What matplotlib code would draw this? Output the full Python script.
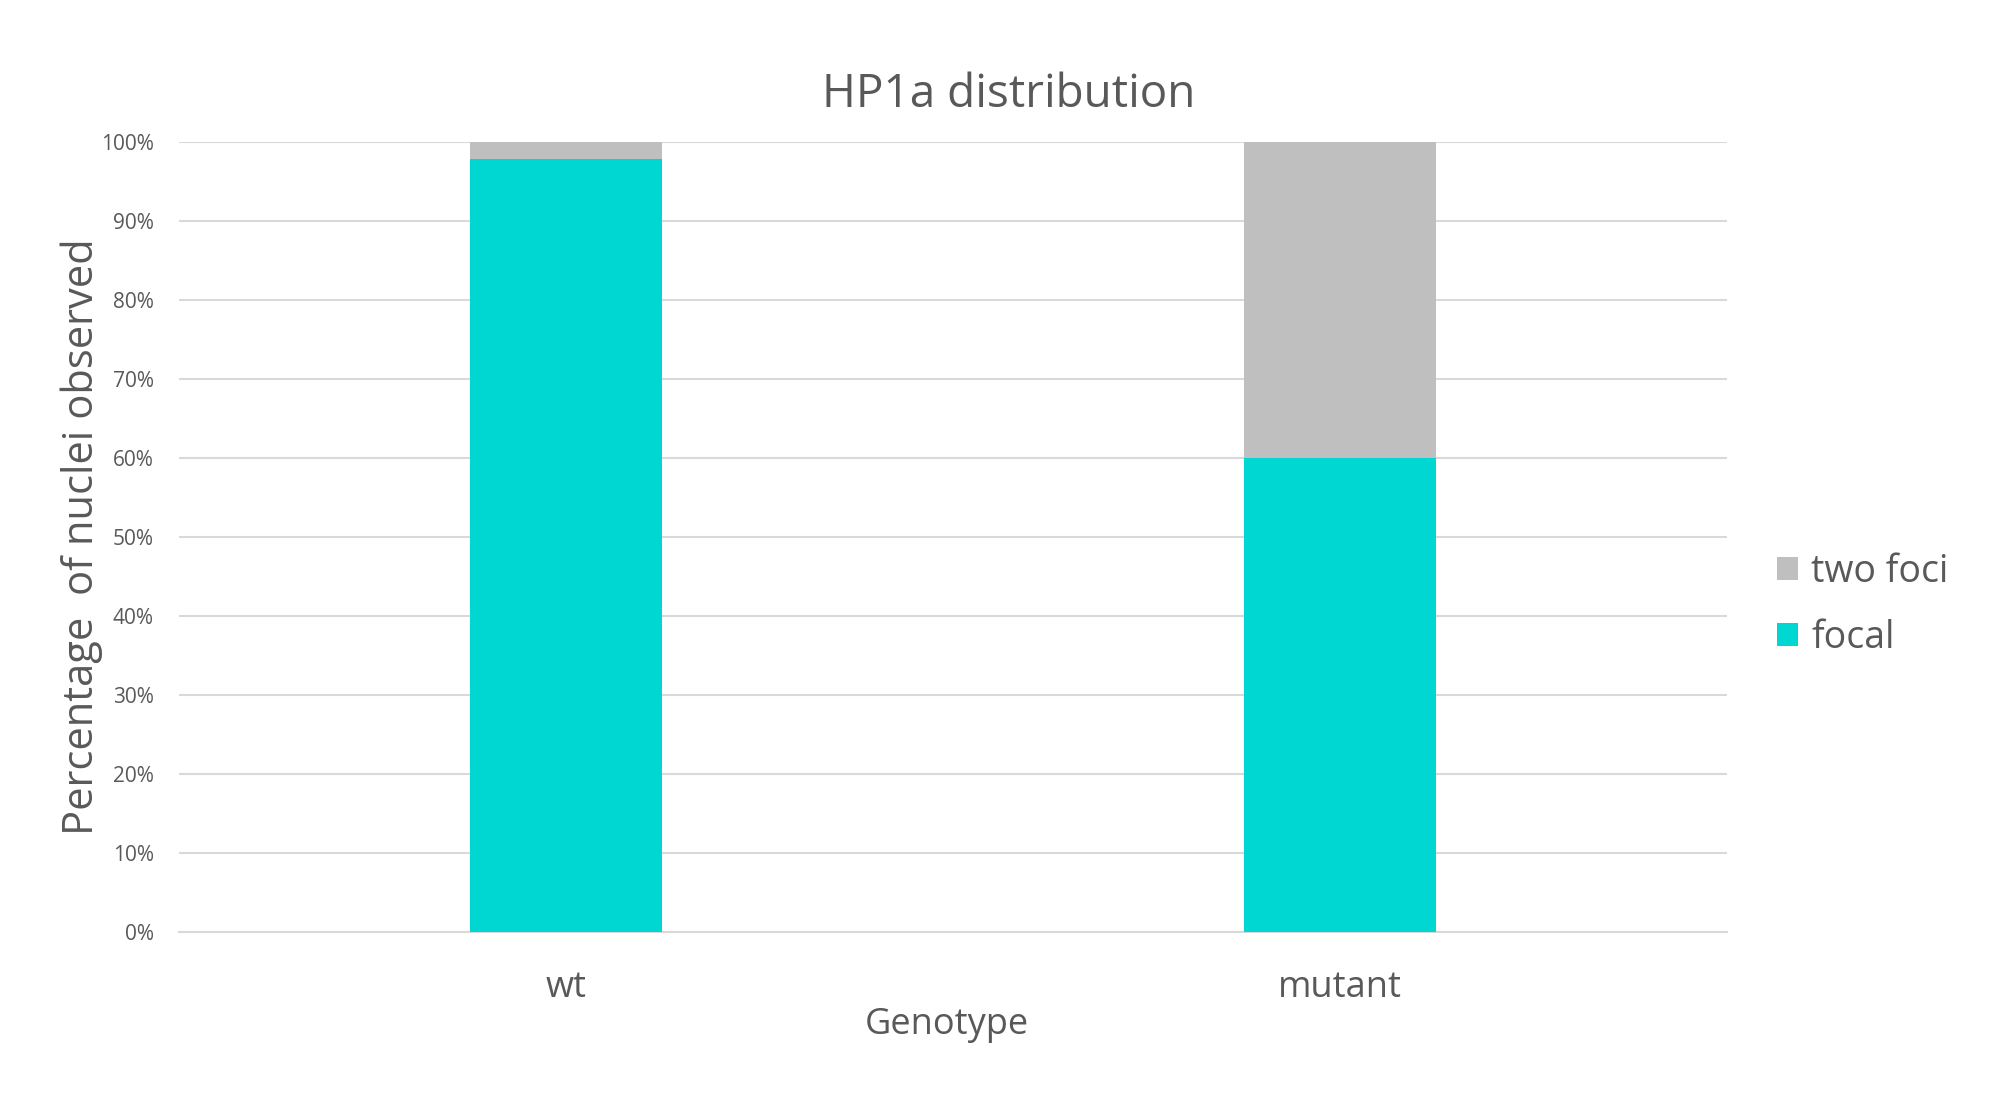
import matplotlib
matplotlib.use("Agg")
import matplotlib.pyplot as plt
from matplotlib.ticker import PercentFormatter

# data (percent of nuclei)
genotypes = ["wt", "mutant"]
focal = [97.8, 60.0]
two_foci = [2.2, 40.0]

plt.rcParams['font.family'] = ['Open Sans', 'DejaVu Sans']
text_col = "#595959"
grid_col = "#d9d9d9"

fig = plt.figure(figsize=(20.10, 11.08), dpi=100)
ax = fig.add_axes([0.089, 0.1588, 0.770, 0.713])

x = range(len(genotypes))
b1 = ax.bar(x, focal, width=0.248, color="#00d6d2", label="focal", zorder=3)
b2 = ax.bar(x, two_foci, width=0.248, bottom=focal, color="#bfbfbf",
            label="two foci", zorder=3)

ax.set_xlim(-0.5, 1.5)
ax.set_ylim(0, 100)
ax.set_yticks(range(0, 101, 10))
ax.yaxis.set_major_formatter(PercentFormatter(decimals=0))
ax.grid(axis="y", color=grid_col, linewidth=1.5, zorder=0)
for s in ["top", "right", "left"]:
    ax.spines[s].set_visible(False)
ax.spines["bottom"].set_color(grid_col)
ax.spines["bottom"].set_linewidth(1.5)
ax.tick_params(axis="both", length=0)
ax.tick_params(axis="y", labelsize=15, labelcolor=text_col, pad=18)
ax.set_xticks(list(x))
ax.set_xticklabels(genotypes, fontsize=26, color=text_col)
ax.tick_params(axis="x", pad=27)

ax.set_xlabel("Genotype", fontsize=26, color=text_col, labelpad=0)
ax.xaxis.set_label_coords(0.496, -0.095)
ax.set_ylabel("Percentage  of nuclei observed", fontsize=30, color=text_col)
ax.yaxis.set_label_coords(-0.049, 0.5)
fig.suptitle("HP1a distribution", fontsize=33, color=text_col, x=0.502, y=0.935)

leg = ax.legend(handles=[b2, b1], loc="center left", bbox_to_anchor=(1.011, 0.414),
                frameon=False, fontsize=27, handlelength=0.55, handleheight=0.55,
                handletextpad=0.35, labelspacing=0.75, labelcolor=text_col)

fig.savefig("out.png", dpi=100, facecolor="white")
